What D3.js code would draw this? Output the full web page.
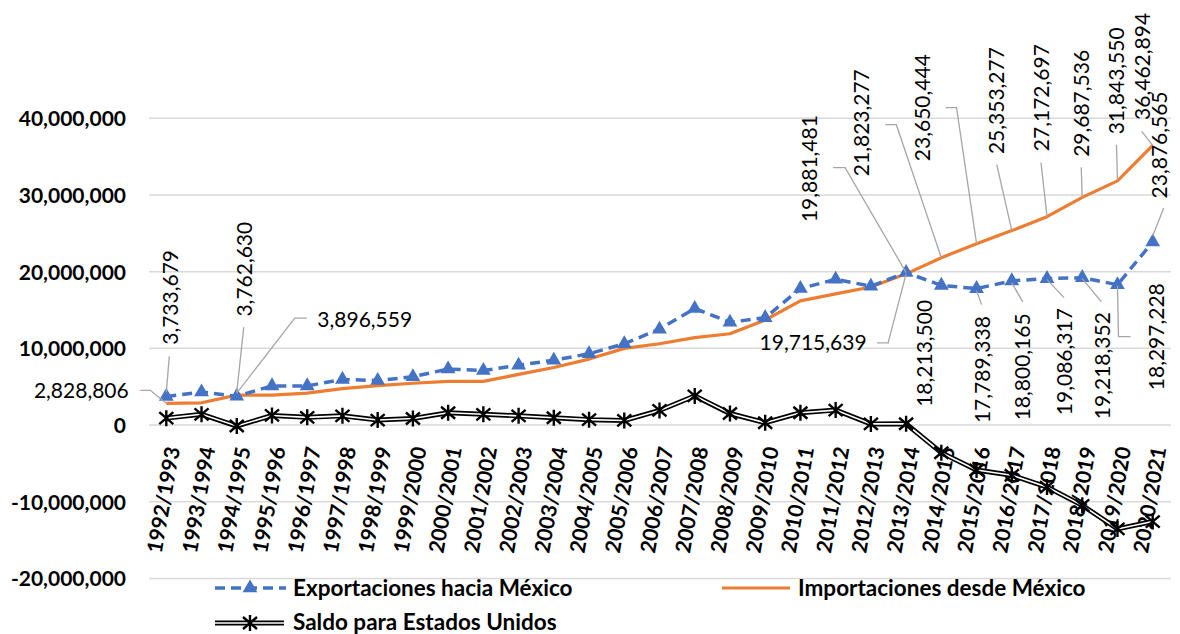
<!DOCTYPE html>
<html>
<head>
<meta charset="utf-8">
<script src="https://cdn.jsdelivr.net/npm/d3@7"></script>
<style>
  html, body { margin: 0; padding: 0; background: #fff; }
  svg { display: block; }
  text { font-family: "Lato", "Liberation Sans", sans-serif; }
</style>
</head>
<body>
<svg id="chart" width="1180" height="634"></svg>
<script>
// ---------------- data ----------------
const categories = ["1992/1993","1993/1994","1994/1995","1995/1996","1996/1997","1997/1998","1998/1999","1999/2000","2000/2001","2001/2002","2002/2003","2003/2004","2004/2005","2005/2006","2006/2007","2007/2008","2008/2009","2009/2010","2010/2011","2011/2012","2012/2013","2013/2014","2014/2015","2015/2016","2016/2017","2017/2018","2018/2019","2019/2020","2020/2021"];

const exportaciones = [3733679, 4300000, 3762630, 5100000, 5100000, 5950000, 5800000, 6300000, 7300000, 7100000, 7800000, 8450000, 9300000, 10600000, 12500000, 15200000, 13400000, 14000000, 17800000, 19000000, 18100000, 19881481, 18213500, 17789338, 18800165, 19086317, 19218352, 18297228, 23876565];

const importaciones = [2828806, 2900000, 3896559, 3900000, 4150000, 4750000, 5150000, 5450000, 5700000, 5700000, 6600000, 7500000, 8600000, 10000000, 10600000, 11400000, 11900000, 13700000, 16200000, 17100000, 18000000, 19715639, 21823277, 23650444, 25353277, 27172697, 29687536, 31843550, 36462894];

const saldo = [900000, 1400000, -130000, 1250000, 1000000, 1200000, 650000, 850000, 1600000, 1400000, 1200000, 950000, 700000, 600000, 1900000, 3800000, 1500000, 300000, 1600000, 1950000, 150000, 165842, -3609777, -5861106, -6553112, -8086380, -10469184, -13546322, -12586329];

const yTicks = [-20000000, -10000000, 0, 10000000, 20000000, 30000000, 40000000];

const seriesNames = ["Exportaciones hacia México", "Importaciones desde México", "Saldo para Estados Unidos"];

// data labels: which series / category index gets a label
const labelSeries = ["exp","imp","exp","imp","exp","imp","imp","imp","imp","imp","imp","imp","imp","exp","exp","exp","exp","exp","exp","exp"];
const labelIndex  = [0, 0, 2, 2, 21, 21, 22, 23, 24, 25, 26, 27, 28, 28, 22, 23, 24, 25, 26, 27];

// ---------------- layout (positions / styles) ----------------
// label placement relative to the data point: [dx, dy, rotation], and leader polyline offsets
const labelLayout = [
  {dx: 4,   dy: -99,  rot: -90, leader: [[3,-40],[0,-4]]},
  {dx: -85, dy: -13,  rot: 0,   leader: [[-26,-13],[-16,-13],[0,0]]},
  {dx: 8,   dy: -127, rot: -90, leader: [[7,-69],[0,-4]]},
  {dx: 128, dy: -76,  rot: 0,   leader: [[70,-77],[58,-77],[0,-2]]},
  {dx: -96, dy: -104, rot: -90, leader: [[-73,-105],[-61,-105],[0,0]]},
  {dx: -93, dy: 69,   rot: 0,   leader: [[-29,69],[-18,69],[0,0]]},
  {dx: -80, dy: -135, rot: -90, leader: [[-56,-133],[-45,-133],[0,0]]},
  {dx: -54, dy: -136, rot: -90, leader: [[-31,-136],[-20,-136],[0,0]]},
  {dx: -15, dy: -130, rot: -90, leader: [[-15,-66],[0,0]]},
  {dx: -5,  dy: -119, rot: -90, leader: [[-6,-54],[0,0]]},
  {dx: -1,  dy: -94,  rot: -90, leader: [[-1,-30],[0,0]]},
  {dx: -1,  dy: -100, rot: -90, leader: [[-1,-36],[0,0]]},
  {dx: -10, dy: -79,  rot: -90, leader: [[-11,-14],[0,0]]},
  {dx: 7,   dy: -97,  rot: -90, leader: [[11,-34],[0,-6]]},
  {dx: -17, dy: 68,   rot: -90, leader: null},
  {dx: 6,   dy: 81,   rot: -90, leader: [[5,16],[0,2]]},
  {dx: 11,  dy: 86,   rot: -90, leader: [[11,21],[0,2]]},
  {dx: 18,  dy: 83,   rot: -90, leader: [[17,19],[0,1]]},
  {dx: 20,  dy: 88,   rot: -90, leader: [[19,24],[0,1]]},
  {dx: 39,  dy: 52,   rot: -90, leader: [[13,52],[1,52],[0,1]]}
];

const BLUE = "#4472C4", ORANGE = "#ED7D31", GRID = "#D9D9D9", LEADER = "#A6A6A6";
const fmt = v => d3.format(",")(v).replace("\u2212", "-");

const svg = d3.select("#chart");

const x = d3.scalePoint().domain(categories).range([166.3, 1152.7]);
const y = d3.scaleLinear().domain([-20000000, 40000000]).range([578.4, 118.3]);
const plotLeft = 149, plotRight = 1171;

// gridlines
svg.append("g").selectAll("line").data(yTicks).join("line")
  .attr("x1", plotLeft).attr("x2", plotRight)
  .attr("y1", d => y(d)).attr("y2", d => y(d))
  .attr("stroke", GRID).attr("stroke-width", 1.5);

// y axis labels
const yAxis = d3.axisLeft(y).tickValues(yTicks).tickFormat(fmt).tickSize(0).tickPadding(0);
const yg = svg.append("g").attr("transform", "translate(126,0)").call(yAxis);
yg.select(".domain").remove();
yg.selectAll("text")
  .attr("font-family", "Lato, 'Liberation Sans', sans-serif")
  .attr("font-size", 21).attr("font-weight", "bold").attr("fill", "#000")
  .attr("dy", "0.35em");

// x axis labels (rotated)
const xAxis = d3.axisBottom(x).tickSize(0).tickPadding(0);
const xg = svg.append("g").attr("transform", `translate(0,${y(0)})`).call(xAxis);
xg.select(".domain").remove();
xg.selectAll("text")
  .attr("font-family", "Lato, 'Liberation Sans', sans-serif")
  .attr("font-size", 21).attr("font-weight", "bold").attr("fill", "#000")
  .attr("text-anchor", "end")
  .attr("transform", "translate(6,22) rotate(-80)")
  .attr("x", 0).attr("y", 0).attr("dy", "0.35em");

// lines
const line = arr => d3.line().x((d, i) => x(categories[i])).y(d => y(d))(arr);

// importaciones
svg.append("path").attr("d", line(importaciones))
  .attr("fill", "none").attr("stroke", ORANGE).attr("stroke-width", 3.2).attr("stroke-linejoin", "round");

// exportaciones
svg.append("path").attr("d", line(exportaciones))
  .attr("fill", "none").attr("stroke", BLUE).attr("stroke-width", 3.5)
  .attr("stroke-dasharray", "10,6").attr("stroke-linejoin", "round");
const tri = d3.symbol().type(d3.symbolTriangle).size(95);
svg.append("g").selectAll("path").data(exportaciones).join("path")
  .attr("d", tri)
  .attr("transform", (d, i) => `translate(${x(categories[i])},${y(d)})`)
  .attr("fill", BLUE);

// saldo (double line)
svg.append("path").attr("d", line(saldo))
  .attr("fill", "none").attr("stroke", "#000").attr("stroke-width", 5).attr("stroke-linejoin", "miter");
svg.append("path").attr("d", line(saldo))
  .attr("fill", "none").attr("stroke", "#fff").attr("stroke-width", 1.6).attr("stroke-linejoin", "miter");
const star = "M0,-8L0,8M-7,-6L7,6M-7,6L7,-6";
svg.append("g").selectAll("path").data(saldo).join("path")
  .attr("d", star)
  .attr("transform", (d, i) => `translate(${x(categories[i])},${y(d)})`)
  .attr("fill", "none").attr("stroke", "#000").attr("stroke-width", 2.4);

// data labels
const seriesValues = {exp: exportaciones, imp: importaciones};
const lg = svg.append("g");
labelSeries.forEach((s, k) => {
  const i = labelIndex[k];
  const v = seriesValues[s][i];
  const px = x(categories[i]), py = y(v);
  const L = labelLayout[k];
  if (L.leader) {
    lg.append("path")
      .attr("d", d3.line()(L.leader.map(p => [px + p[0], py + p[1]])))
      .attr("fill", "none").attr("stroke", LEADER).attr("stroke-width", 1.3);
  }
  lg.append("text")
    .attr("transform", `translate(${px + L.dx},${py + L.dy}) rotate(${L.rot})`)
    .attr("text-anchor", "middle").attr("dy", "0.35em")
    .attr("font-size", 21).attr("fill", "#000")
    .text(fmt(v));
});

// legend
const leg = svg.append("g");
// row 1 - exportaciones
leg.append("line").attr("x1", 215).attr("x2", 286).attr("y1", 588).attr("y2", 588)
  .attr("stroke", BLUE).attr("stroke-width", 3.5).attr("stroke-dasharray", "10,6");
leg.append("path").attr("d", tri).attr("transform", "translate(250,588)").attr("fill", BLUE);
leg.append("text").attr("x", 293).attr("y", 588).attr("dy", "0.35em")
  .attr("font-size", 22.5).attr("font-weight", "bold").text(seriesNames[0]);
// row 1 - importaciones
leg.append("line").attr("x1", 722).attr("x2", 790).attr("y1", 588).attr("y2", 588)
  .attr("stroke", ORANGE).attr("stroke-width", 3.2);
leg.append("text").attr("x", 798).attr("y", 588).attr("dy", "0.35em")
  .attr("font-size", 22.5).attr("font-weight", "bold").text(seriesNames[1]);
// row 2 - saldo
leg.append("line").attr("x1", 215).attr("x2", 284).attr("y1", 623).attr("y2", 623)
  .attr("stroke", "#000").attr("stroke-width", 5);
leg.append("line").attr("x1", 215).attr("x2", 284).attr("y1", 623).attr("y2", 623)
  .attr("stroke", "#fff").attr("stroke-width", 1.6);
leg.append("path").attr("d", star).attr("transform", "translate(250,623)")
  .attr("fill", "none").attr("stroke", "#000").attr("stroke-width", 2.4);
leg.append("text").attr("x", 293).attr("y", 622).attr("dy", "0.35em")
  .attr("font-size", 22.5).attr("font-weight", "bold").text(seriesNames[2]);
</script>
</body>
</html>
